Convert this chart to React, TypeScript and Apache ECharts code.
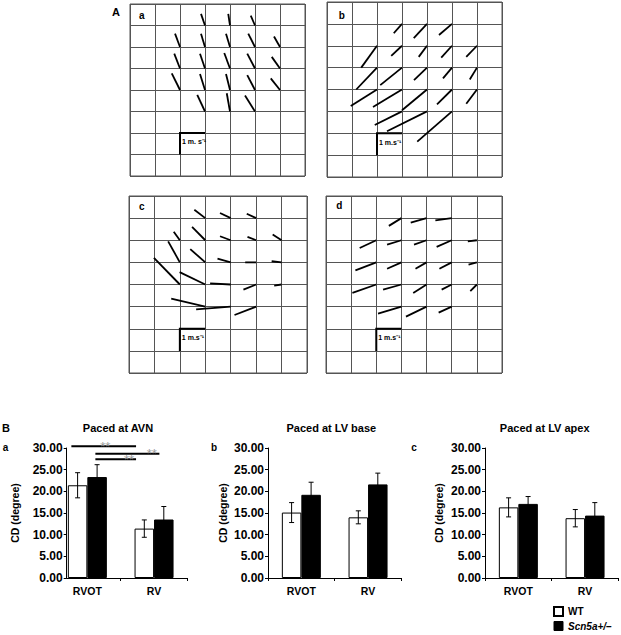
import React, { useEffect, useRef } from "react";
import * as echarts from "echarts";

// ---------- Panel A: conduction velocity vectors [col, row, dx, dy] (grid units) ----------
const vectorsA = [
  [3, 1, -0.16, -0.54], [4, 1, -0.07, -0.54], [5, 1, -0.17, -0.46],
  [2, 2, -0.2, -0.62], [3, 2, -0.16, -0.62], [4, 2, -0.16, -0.62], [5, 2, -0.27, -0.62], [6, 2, -0.24, -0.49],
  [2, 3, -0.23, -0.69], [3, 3, -0.2, -0.69], [4, 3, -0.23, -0.72], [5, 3, -0.31, -0.69], [6, 3, -0.33, -0.54],
  [2, 4, -0.33, -0.77], [3, 4, -0.2, -0.74], [4, 4, -0.16, -0.74], [5, 4, -0.31, -0.69], [6, 4, -0.37, -0.54],
  [3, 5, -0.31, -0.77], [4, 5, -0.13, -0.85], [5, 5, -0.4, -0.74],
];
const vectorsB = [
  [3, 1, -0.33, 0.43], [4, 1, -0.53, 0.65], [5, 1, -0.52, 0.51],
  [2, 2, -0.63, 1.0], [3, 2, -0.43, 0.46], [4, 2, -0.33, 0.51], [5, 2, -0.43, 0.54], [6, 2, -0.43, 0.51],
  [2, 3, -0.83, 1.0], [3, 3, -0.87, 0.8], [4, 3, -0.52, 0.57], [5, 3, -0.36, 0.49], [6, 3, -0.29, 0.54],
  [2, 4, -1.05, 0.75], [3, 4, -1.16, 0.8], [4, 4, -1.0, 0.95], [5, 4, -0.6, 0.68], [6, 4, -0.43, 0.65],
  [3, 5, -1.09, 0.62], [4, 5, -1.6, 0.91], [5, 5, -1.39, 1.38],
];
const vectorsC = [
  [3, 1, -0.43, -0.38], [4, 1, -0.42, -0.23], [5, 1, -0.37, -0.2],
  [2, 2, -0.24, -0.38], [3, 2, -0.52, -0.6], [4, 2, -0.42, -0.18], [5, 2, -0.34, -0.15], [6, 2, -0.35, -0.26],
  [2, 3, -0.46, -0.95], [3, 3, -0.59, -0.6], [4, 3, -0.52, -0.17], [5, 3, -0.43, 0], [6, 3, -0.39, -0.05],
  [2, 4, -1.02, -1.2], [3, 4, -1.01, -0.56], [4, 4, -0.81, -0.05], [5, 4, -0.5, 0.23], [6, 4, -0.29, 0.05],
  [3, 5, -1.34, -0.36], [4, 5, -1.36, 0.12], [5, 5, -0.85, 0.38],
];
const vectorsD = [
  [3, 1, -0.5, 0.35], [4, 1, -0.63, 0.2], [5, 1, -0.65, 0.1],
  [2, 2, -0.66, 0.35], [3, 2, -0.57, 0.2], [4, 2, -0.5, 0.2], [5, 2, -0.6, 0.3], [6, 2, -0.36, 0.05],
  [2, 3, -0.83, 0.36], [3, 3, -0.57, 0.29], [4, 3, -0.44, 0.29], [5, 3, -0.49, 0.29], [6, 3, -0.33, 0.1],
  [2, 4, -0.95, 0.38], [3, 4, -0.73, 0.23], [4, 4, -0.53, 0.38], [5, 4, -0.4, 0.23], [6, 4, -0.26, 0.3],
  [3, 5, -0.93, 0.32], [4, 5, -0.82, 0.45], [5, 5, -0.52, 0.27],
];
const scaleBarNode = [2, 6];
const scaleLabels = ["1 m. s⁻¹", "1 m.s⁻¹", "1 m.s⁻¹", "1 m.s⁻¹"];
const mapLetters = ["a", "b", "c", "d"];

// ---------- Panel B: CD (degree) ----------
const categories = ["RVOT", "RV"];
const wtAVN = [21.4, 11.4];
const wtAVNErr = [2.9, 2.0];
const scnAVN = [23.3, 13.5];
const scnAVNErr = [2.85, 3.0];
const wtBase = [15.1, 14.0];
const wtBaseErr = [2.3, 1.5];
const scnBase = [19.2, 21.6];
const scnBaseErr = [2.9, 2.6];
const wtApex = [16.3, 13.8];
const wtApexErr = [2.2, 2.0];
const scnApex = [17.1, 14.4];
const scnApexErr = [1.7, 3.0];
const panelTitles = ["Paced at AVN", "Paced at LV base", "Paced at LV apex"];
// significance brackets in panel a: [xStart, xEnd, y, labelX] (x in category-band units)
const sigLines = [
  [0.26, 1.23, 30.4, 0.77],
  [0.62, 1.58, 28.7, 1.465],
  [0.62, 1.23, 27.4, 1.125],
];
const WT = "WT";
const SCN = "Scn5a+/–";

const BAR_W = 19.5;
const FONT = "Arial, 'Liberation Sans', Helvetica, sans-serif";

export default function App() {
  const ref = useRef<HTMLDivElement>(null);

  useEffect(() => {
    if (!ref.current) return;
    const chart = echarts.init(ref.current, undefined, { renderer: "svg" });

    const mapGrids = [
      { left: 130, top: 4, width: 175, height: 172 },
      { left: 327, top: 2, width: 175, height: 175 },
      { left: 129, top: 196, width: 178, height: 177 },
      { left: 326, top: 196, width: 176, height: 177 },
    ];
    const vecSets = [vectorsA, vectorsB, vectorsC, vectorsD];

    const grids: any[] = mapGrids.map((g) => ({
      ...g,
      show: true,
      borderColor: "#555",
      borderWidth: 1,
      backgroundColor: "transparent",
    }));
    grids.push({ left: 54, top: 448, width: 133.4, height: 130 }); // 4: panel a bars
    grids.push({ left: 66.7, top: 448, width: 120.7, height: 130 }); // 5: panel a axes
    grids.push({ left: 268, top: 448, width: 133.4, height: 130 }); // 6: panel b
    grids.push({ left: 485, top: 448, width: 133.4, height: 130 }); // 7: panel c

    const xAxes: any[] = [];
    const yAxes: any[] = [];
    mapGrids.forEach((_, i) => {
      xAxes.push({
        type: "value", gridIndex: i, min: 0, max: 7, interval: 1,
        axisLine: { show: false }, axisTick: { show: false }, axisLabel: { show: false },
        splitLine: { show: true, lineStyle: { color: "#555", width: 1 } },
      });
      yAxes.push({
        type: "value", gridIndex: i, min: 0, max: 8, interval: 1, inverse: true,
        axisLine: { show: false }, axisTick: { show: false }, axisLabel: { show: false },
        splitLine: { show: true, lineStyle: { color: "#555", width: 1 } },
      });
    });

    const catAxis = (gridIndex: number, showLine: boolean) => ({
      type: "category", gridIndex, data: categories,
      axisLine: { show: showLine, lineStyle: { color: "#000", width: 1 } },
      axisTick: { show: showLine, length: 3, lineStyle: { color: "#000" } },
      axisLabel: { color: "#000", fontSize: 10.5, fontWeight: "bold", fontFamily: FONT, margin: 7 },
      splitLine: { show: false },
    });
    const valAxis = (gridIndex: number, nameGap: number) => ({
      type: "value", gridIndex, min: 0, max: 30, interval: 5,
      name: "CD (degree)", nameLocation: "middle", nameGap,
      nameTextStyle: { color: "#000", fontSize: 10.5, fontWeight: "bold", fontFamily: FONT },
      axisLine: { show: true, lineStyle: { color: "#000", width: 1 } },
      axisTick: { show: true, length: 3, lineStyle: { color: "#000" } },
      axisLabel: {
        color: "#000", fontSize: 12, fontWeight: "bold", fontFamily: FONT, margin: 4,
        formatter: (v: number) => v.toFixed(2),
      },
      splitLine: { show: false },
    });

    xAxes.push(catAxis(4, false));
    yAxes.push({ type: "value", gridIndex: 4, min: 0, max: 30, interval: 5, show: false });
    xAxes.push({
      type: "value", gridIndex: 5, min: 0.19, max: 2,
      axisLine: { show: true, lineStyle: { color: "#000", width: 1 } },
      axisTick: { show: true, length: 3, customValues: [1, 2], lineStyle: { color: "#000" } },
      axisLabel: { show: false }, splitLine: { show: false },
    });
    yAxes.push(valAxis(5, 46));
    xAxes.push(catAxis(6, true));
    yAxes.push(valAxis(6, 40));
    xAxes.push(catAxis(7, true));
    yAxes.push(valAxis(7, 41));

    const series: any[] = [];

    vecSets.forEach((vs, i) => {
      series.push({
        type: "custom", xAxisIndex: i, yAxisIndex: i, data: vs, silent: true,
        renderItem: (params: any, api: any) => {
          const c = api.value(0), r = api.value(1), dx = api.value(2), dy = api.value(3);
          const p1 = api.coord([c, r]);
          const p2 = api.coord([c + dx, r + dy]);
          return {
            type: "line",
            shape: { x1: p1[0], y1: p1[1], x2: p2[0], y2: p2[1] },
            style: { stroke: "#000", lineWidth: 1.8 },
          };
        },
        z: 3,
      });
      series.push({
        type: "custom", xAxisIndex: i, yAxisIndex: i, data: [scaleBarNode], silent: true,
        renderItem: (params: any, api: any) => {
          const c = api.value(0), r = api.value(1);
          const pBottom = api.coord([c, r + 1]);
          const pCorner = api.coord([c, r]);
          const pRight = api.coord([c + 1, r]);
          const pText = api.coord([c, r + 0.4]);
          return {
            type: "group",
            children: [
              {
                type: "polyline",
                shape: { points: [pBottom, pCorner, pRight] },
                style: { stroke: "#000", lineWidth: 2, fill: null },
              },
              {
                type: "text",
                x: pText[0] + 2,
                y: pText[1],
                style: {
                  text: scaleLabels[i], fill: "#000", fontSize: 7, fontWeight: "bold",
                  fontFamily: FONT, align: "left", verticalAlign: "middle",
                },
              },
            ],
          };
        },
        z: 4,
      });
    });

    const barPanels = [
      { x: 4, y: 4, wt: wtAVN, wtE: wtAVNErr, sc: scnAVN, scE: scnAVNErr },
      { x: 6, y: 6, wt: wtBase, wtE: wtBaseErr, sc: scnBase, scE: scnBaseErr },
      { x: 7, y: 7, wt: wtApex, wtE: wtApexErr, sc: scnApex, scE: scnApexErr },
    ];
    barPanels.forEach((p) => {
      series.push({
        type: "bar", name: WT, xAxisIndex: p.x, yAxisIndex: p.y, data: p.wt,
        barWidth: BAR_W, barGap: "0%",
        itemStyle: { color: "#fff", borderColor: "#000", borderWidth: 1 },
        z: 2,
      });
      series.push({
        type: "bar", name: SCN, xAxisIndex: p.x, yAxisIndex: p.y, data: p.sc,
        barWidth: BAR_W, barGap: "0%",
        itemStyle: { color: "#000", borderColor: "#000", borderWidth: 1 },
        z: 2,
      });
      const errData: number[][] = [];
      categories.forEach((_, k) => {
        errData.push([k, p.wt[k], p.wtE[k], -1]);
        errData.push([k, p.sc[k], p.scE[k], 1]);
      });
      series.push({
        type: "custom", xAxisIndex: p.x, yAxisIndex: p.y, data: errData, silent: true,
        renderItem: (params: any, api: any) => {
          const k = api.value(0), m = api.value(1), e = api.value(2), side = api.value(3);
          const top = api.coord([k, m + e]);
          const bot = api.coord([k, m - e]);
          const x = top[0] + (side * BAR_W) / 2;
          const cap = 2.5;
          const st = { stroke: "#000", lineWidth: 1 };
          return {
            type: "group",
            children: [
              { type: "line", shape: { x1: x, y1: top[1], x2: x, y2: bot[1] }, style: st },
              { type: "line", shape: { x1: x - cap, y1: top[1], x2: x + cap, y2: top[1] }, style: st },
              { type: "line", shape: { x1: x - cap, y1: bot[1], x2: x + cap, y2: bot[1] }, style: st },
            ],
          };
        },
        z: 5,
      });
    });

    series.push({
      type: "custom", xAxisIndex: 5, yAxisIndex: 5, data: sigLines, silent: true,
      renderItem: (params: any, api: any) => {
        const x1 = api.value(0), x2 = api.value(1), y = api.value(2), lx = api.value(3);
        const a = api.coord([x1, y]);
        const b = api.coord([x2, y]);
        const t = api.coord([lx, y]);
        return {
          type: "group",
          children: [
            { type: "line", shape: { x1: a[0], y1: a[1], x2: b[0], y2: b[1] }, style: { stroke: "#000", lineWidth: 2 } },
            {
              type: "text", x: t[0], y: t[1],
              style: {
                text: "**", fill: "#999", fontSize: 13, fontFamily: FONT,
                align: "center", verticalAlign: "middle",
              },
            },
          ],
        };
      },
      z: 6,
    });

    const txt = (text: string, x: number, y: number, size: number, align = "center") => ({
      type: "text", x, y,
      style: {
        text, fill: "#000", fontSize: size, fontWeight: "bold", fontFamily: FONT,
        align, verticalAlign: "middle",
      },
    });

    const graphics: any[] = [
      txt("A", 116, 12, 11),
      txt(mapLetters[0], 141.7, 15, 10),
      txt(mapLetters[1], 341.7, 15, 10),
      txt(mapLetters[2], 141.7, 206.7, 10),
      txt(mapLetters[3], 339.3, 205.7, 10),
      txt("B", 6, 428, 11),
      txt("a", 5.5, 447, 10),
      txt("b", 214, 447, 10),
      txt("c", 414, 447, 10),
      txt(panelTitles[0], 118, 428, 11),
      txt(panelTitles[1], 331.3, 428, 11),
      txt(panelTitles[2], 544.7, 428, 11),
    ];

    chart.setOption({
      animation: false,
      backgroundColor: "#fff",
      grid: grids,
      xAxis: xAxes,
      yAxis: yAxes,
      series,
      graphic: graphics,
      legend: {
        orient: "vertical",
        left: 553,
        top: 606,
        itemWidth: 9,
        itemHeight: 9,
        itemGap: 4,
        padding: 0,
        selectedMode: false,
        textStyle: {
          color: "#000", fontSize: 10, fontWeight: "bold", fontFamily: FONT,
          rich: { i: { fontStyle: "italic", fontWeight: "bold", fontSize: 10, fontFamily: FONT, color: "#000" } },
        },
        formatter: (name: string) => (name === SCN ? `{i|${name}}` : name),
        data: [
          { name: WT, icon: "rect", itemStyle: { color: "#fff", borderColor: "#000", borderWidth: 2 } },
          { name: SCN, icon: "rect", itemStyle: { color: "#000", borderColor: "#000", borderWidth: 1 } },
        ],
      },
    });

    return () => chart.dispose();
  }, []);

  return (
    <div
      ref={ref}
      style={{ position: "absolute", left: 0, top: 0, width: 621, height: 635, background: "#fff" }}
    />
  );
}
